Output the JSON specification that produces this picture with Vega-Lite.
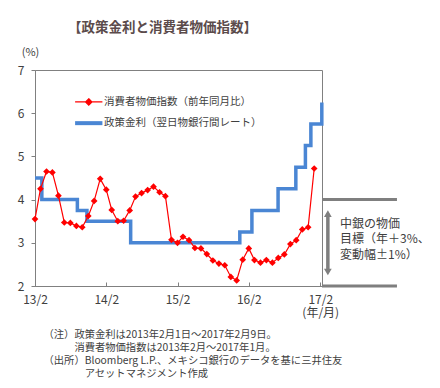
{
  "$schema": "https://vega.github.io/schema/vega-lite/v6.json",
  "autosize": {"type": "none"},
  "width": 287,
  "height": 216,
  "padding": {"left": 35, "top": 70, "right": 118, "bottom": 102},
  "background": "white",
  "config": {
    "font": "Noto Sans CJK JP",
    "view": {"stroke": "#808080", "strokeWidth": 1},
    "axis": {"grid": false, "domainColor": "#808080", "tickColor": "#808080", "labelColor": "#404040", "labelFont": "Noto Sans CJK JP", "titleFont": "Noto Sans CJK JP"}
  },
  "title": {
    "text": "【政策金利と消費者物価指数】",
    "anchor": "start",
    "frame": "group",
    "dx": 33,
    "offset": 12,
    "fontSize": 13.5,
    "fontWeight": "bold",
    "color": "#5b4b4b",
    "font": "Noto Sans CJK JP"
  },
  "datasets": {
    "cpi": [
      {"month": "2013-02-01", "cpi": 3.55},
      {"month": "2013-03-01", "cpi": 4.25},
      {"month": "2013-04-01", "cpi": 4.65},
      {"month": "2013-05-01", "cpi": 4.63},
      {"month": "2013-06-01", "cpi": 4.09},
      {"month": "2013-07-01", "cpi": 3.47},
      {"month": "2013-08-01", "cpi": 3.46},
      {"month": "2013-09-01", "cpi": 3.39},
      {"month": "2013-10-01", "cpi": 3.36},
      {"month": "2013-11-01", "cpi": 3.62},
      {"month": "2013-12-01", "cpi": 3.97},
      {"month": "2014-01-01", "cpi": 4.48},
      {"month": "2014-02-01", "cpi": 4.23},
      {"month": "2014-03-01", "cpi": 3.76},
      {"month": "2014-04-01", "cpi": 3.50},
      {"month": "2014-05-01", "cpi": 3.51},
      {"month": "2014-06-01", "cpi": 3.75},
      {"month": "2014-07-01", "cpi": 4.07},
      {"month": "2014-08-01", "cpi": 4.15},
      {"month": "2014-09-01", "cpi": 4.22},
      {"month": "2014-10-01", "cpi": 4.30},
      {"month": "2014-11-01", "cpi": 4.17},
      {"month": "2014-12-01", "cpi": 4.08},
      {"month": "2015-01-01", "cpi": 3.07},
      {"month": "2015-02-01", "cpi": 3.00},
      {"month": "2015-03-01", "cpi": 3.14},
      {"month": "2015-04-01", "cpi": 3.06},
      {"month": "2015-05-01", "cpi": 2.88},
      {"month": "2015-06-01", "cpi": 2.87},
      {"month": "2015-07-01", "cpi": 2.74},
      {"month": "2015-08-01", "cpi": 2.59},
      {"month": "2015-09-01", "cpi": 2.52},
      {"month": "2015-10-01", "cpi": 2.48},
      {"month": "2015-11-01", "cpi": 2.21},
      {"month": "2015-12-01", "cpi": 2.13},
      {"month": "2016-01-01", "cpi": 2.61},
      {"month": "2016-02-01", "cpi": 2.87},
      {"month": "2016-03-01", "cpi": 2.60},
      {"month": "2016-04-01", "cpi": 2.54},
      {"month": "2016-05-01", "cpi": 2.60},
      {"month": "2016-06-01", "cpi": 2.54},
      {"month": "2016-07-01", "cpi": 2.65},
      {"month": "2016-08-01", "cpi": 2.73},
      {"month": "2016-09-01", "cpi": 2.97},
      {"month": "2016-10-01", "cpi": 3.06},
      {"month": "2016-11-01", "cpi": 3.31},
      {"month": "2016-12-01", "cpi": 3.36},
      {"month": "2017-01-01", "cpi": 4.72}
    ],
    "policy": [
      {"date": "2013-02-01", "rate": 4.5},
      {"date": "2013-03-08", "rate": 4.0},
      {"date": "2013-09-06", "rate": 3.75},
      {"date": "2013-10-25", "rate": 3.5},
      {"date": "2014-06-06", "rate": 3.0},
      {"date": "2015-12-17", "rate": 3.25},
      {"date": "2016-02-17", "rate": 3.75},
      {"date": "2016-06-30", "rate": 4.25},
      {"date": "2016-09-29", "rate": 4.75},
      {"date": "2016-11-17", "rate": 5.25},
      {"date": "2016-12-15", "rate": 5.75},
      {"date": "2017-02-09", "rate": 6.25}
    ],
    "target": [
      {"label": "中銀の物価\n目標（年＋3%、\n変動幅±1%）", "lower": 2, "mid": 3, "upper": 4}
    ]
  },
  "layer": [
    {
      "data": {"name": "policy"},
      "mark": {"type": "line", "interpolate": "step-after", "strokeWidth": 3.5},
      "encoding": {
        "x": {
          "field": "date", "type": "temporal",
          "scale": {"type": "utc", "domain": [{"year": 2013, "month": 2, "date": 1, "utc": true}, {"year": 2017, "month": 2, "date": 10, "utc": true}]},
          "axis": {
            "values": [
              {"year": 2013, "month": 2, "date": 1, "utc": true},
              {"year": 2014, "month": 2, "date": 1, "utc": true},
              {"year": 2015, "month": 2, "date": 1, "utc": true},
              {"year": 2016, "month": 2, "date": 1, "utc": true},
              {"year": 2017, "month": 2, "date": 1, "utc": true}
            ],
            "labelExpr": "utcyear(datum.value) == 2017 ? ['17/2', '(年/月)'] : utcFormat(datum.value, '%y/%-m')",
            "labelFontSize": 12,
            "labelLineHeight": 13.5,
            "labelBaseline": "top",
            "labelOverlap": false,
            "labelFlush": false,
            "labelBound": false,
            "tickSize": -4,
            "labelPadding": 12,
            "labelDx": 3,
            "title": [
              "（注）政策金利は2013年2月1日～2017年2月9日。",
              "\u200b　　　消費者物価指数は2013年2月～2017年1月。",
              "（出所）Bloomberg L.P.、メキシコ銀行のデータを基に三井住友",
              "\u200b　　　　アセットマネジメント作成"
            ],
            "titleFontSize": 10.3,
            "titleFontWeight": "normal",
            "titleColor": "#404040",
            "titleLineHeight": 13,
            "titleAnchor": "start",
            "titleAlign": "left",
            "titleBaseline": "top",
            "titleX": 8,
            "titleY": 43
          }
        },
        "y": {
          "field": "rate", "type": "quantitative",
          "scale": {"domain": [2, 7], "nice": false, "zero": false},
          "axis": {
            "values": [2, 3, 4, 5, 6, 7],
            "tickSize": 4,
            "labelPadding": 7,
            "labelFontSize": 12,
            "title": "(%)",
            "titleAngle": 0,
            "titleFontSize": 11,
            "titleFontWeight": "normal",
            "titleColor": "#404040",
            "titleAlign": "center",
            "titleBaseline": "middle",
            "titleX": -5,
            "titleY": -18
          }
        },
        "color": {
          "datum": "政策金利（翌日物銀行間レート）",
          "type": "nominal",
          "scale": {
            "domain": ["消費者物価指数（前年同月比）", "政策金利（翌日物銀行間レート）"],
            "range": ["#ff0000", "#4a86d4"]
          },
          "legend": {
            "title": null,
            "orient": "none",
            "legendX": 48.5,
            "legendY": 26.7,
            "padding": 0,
            "symbolType": "M-1.3,0H1.3",
            "labelFontSize": 10.5,
            "labelColor": "#404040",
            "labelOffset": 10,
            "rowPadding": 7.2,
            "encode": {
              "symbols": {"update": {
                "shape": {"signal": "datum.index === 0 ? 'M-1.3,0H1.3M0,-0.3L0.3,0L0,0.3L-0.3,0Z' : 'M-1.3,0H1.3'"},
                "size": {"value": 441},
                "fill": {"signal": "datum.index === 0 ? '#ff0000' : 'transparent'"},
                "fillOpacity": {"value": 1},
                "strokeWidth": {"signal": "datum.index === 1 ? 4 : 1.3"}
              }}
            }
          }
        }
      }
    },
    {
      "data": {"name": "cpi"},
      "mark": {"type": "line", "strokeWidth": 1.2, "point": {"shape": "diamond", "size": 45, "filled": true}},
      "encoding": {
        "x": {"field": "month", "type": "temporal"},
        "y": {"field": "cpi", "type": "quantitative"},
        "color": {"datum": "消費者物価指数（前年同月比）", "type": "nominal"}
      }
    },
    {
      "data": {"name": "target"},
      "mark": {"type": "rule", "color": "#7f7f7f", "strokeWidth": 3},
      "encoding": {
        "x": {"datum": {"year": 2017, "month": 2, "date": 10, "utc": true}, "type": "temporal"},
        "x2": {"datum": {"year": 2018, "month": 3, "date": 1, "utc": true}},
        "y": {"field": "upper", "type": "quantitative"}
      }
    },
    {
      "data": {"name": "target"},
      "mark": {"type": "rule", "color": "#7f7f7f", "strokeWidth": 3},
      "encoding": {
        "x": {"datum": {"year": 2017, "month": 2, "date": 10, "utc": true}, "type": "temporal"},
        "x2": {"datum": {"year": 2018, "month": 3, "date": 1, "utc": true}},
        "y": {"field": "lower", "type": "quantitative"}
      }
    },
    {
      "data": {"name": "target"},
      "mark": {"type": "rule", "color": "#7f7f7f", "strokeWidth": 3.5, "yOffset": 14, "y2Offset": -14},
      "encoding": {
        "x": {"datum": {"year": 2017, "month": 3, "date": 12, "utc": true}, "type": "temporal"},
        "y": {"field": "upper", "type": "quantitative"},
        "y2": {"field": "lower"}
      }
    },
    {
      "data": {"name": "target"},
      "mark": {"type": "point", "shape": "triangle-up", "filled": true, "color": "#7f7f7f", "size": 60, "opacity": 1, "yOffset": 14},
      "encoding": {
        "x": {"datum": {"year": 2017, "month": 3, "date": 12, "utc": true}, "type": "temporal"},
        "y": {"field": "upper", "type": "quantitative"}
      }
    },
    {
      "data": {"name": "target"},
      "mark": {"type": "point", "shape": "triangle-down", "filled": true, "color": "#7f7f7f", "size": 60, "opacity": 1, "yOffset": -14},
      "encoding": {
        "x": {"datum": {"year": 2017, "month": 3, "date": 12, "utc": true}, "type": "temporal"},
        "y": {"field": "lower", "type": "quantitative"}
      }
    },
    {
      "data": {"name": "target"},
      "mark": {"type": "text", "align": "left", "baseline": "middle", "dx": 18, "dy": -19, "fontSize": 12, "lineBreak": "\n", "lineHeight": 15.5, "color": "#404040"},
      "encoding": {
        "x": {"datum": {"year": 2017, "month": 2, "date": 10, "utc": true}, "type": "temporal"},
        "y": {"field": "mid", "type": "quantitative"},
        "text": {"field": "label"}
      }
    }
  ]
}
